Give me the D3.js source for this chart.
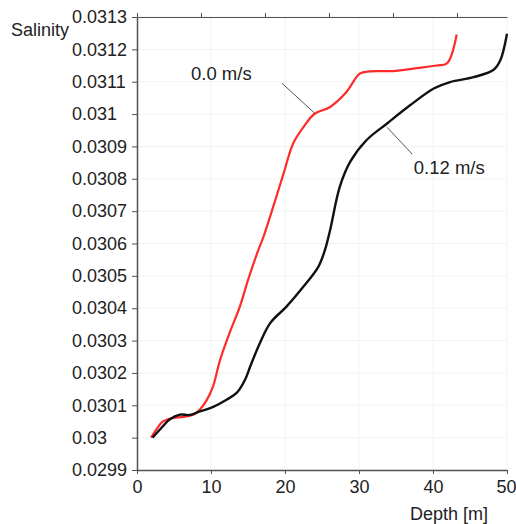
<!DOCTYPE html>
<html>
<head>
<meta charset="utf-8">
<script src="https://cdn.jsdelivr.net/npm/d3@7"></script>
<style>
  body { margin: 0; background: #fff; }
  svg { font-family: "Liberation Sans", Arial, sans-serif; }
  .axis path, .axis line { stroke: #4d5353; }
  .grid line { stroke: #edf4f4; }
</style>
</head>
<body>
<div id="chart"></div>
<script>
/* CONSTANTS AND GLOBALS */
const width = 516,
  height = 524,
  margin = { top: 17, bottom: 54, left: 137, right: 9 };

// depth [m] and salinity
const depthStill = [1.9, 2.6, 3.5, 4.9, 6.2, 7.6, 8.5, 9.4, 10.3, 11.2, 12.5, 13.9, 15.0, 16.4, 17.1, 18.4, 19.8, 21.1, 22.5, 24.0, 26.1, 28.3, 30.1, 31.5, 34.6, 37.8, 40.5, 41.9, 43.2];
const salStill = [0.030000, 0.030025, 0.030050, 0.030061, 0.030064, 0.030071, 0.030087, 0.030115, 0.030160, 0.030238, 0.030323, 0.030405, 0.030487, 0.030580, 0.030621, 0.030713, 0.030816, 0.030909, 0.030960, 0.031001, 0.031022, 0.031068, 0.031125, 0.031132, 0.031133, 0.031142, 0.031150, 0.031157, 0.031246];

const depthFlow = [2.1, 3.1, 4.4, 5.8, 7.1, 8.5, 10.3, 12.1, 13.5, 14.6, 15.3, 16.6, 18.0, 20.2, 22.5, 24.5, 25.4, 26.1, 27.4, 28.8, 31.0, 33.8, 36.9, 40.1, 42.3, 45.5, 48.2, 49.1, 50.0];
const salFlow = [0.030000, 0.030025, 0.030056, 0.030071, 0.030070, 0.030081, 0.030095, 0.030117, 0.030139, 0.030179, 0.030220, 0.030292, 0.030354, 0.030405, 0.030467, 0.030528, 0.030580, 0.030642, 0.030775, 0.030852, 0.030919, 0.030971, 0.031027, 0.031079, 0.031099, 0.031114, 0.031137, 0.031166, 0.031248];

const xTicks = [0, 10, 20, 30, 40, 50];
const yTicks = [0.0299, 0.03, 0.0301, 0.0302, 0.0303, 0.0304, 0.0305, 0.0306, 0.0307, 0.0308, 0.0309, 0.031, 0.0311, 0.0312, 0.0313];
const topTicks = [0, 1, 2, 3, 4, 5];

// labels: [text, textDepth, textSal, lineFromDepth, lineFromSal, lineToDepth, lineToSal]
const labels = [
  ["0.0 m/s", 7.3, 0.031105, 19.6, 0.031095, 24.0, 0.031003],
  ["0.12 m/s", 37.4, 0.030815, 37.2, 0.030876, 33.8, 0.030959]
];

/* SCALES */
const xScale = d3.scaleLinear().domain([0, 50]).range([margin.left, width - margin.right]);
const yScale = d3.scaleLinear().domain([0.0299, 0.0313]).range([height - margin.bottom, margin.top]);
const topScale = d3.scaleLinear().domain([0, 370 / 64]).range([margin.left, width - margin.right]);

const svg = d3.select("#chart").append("svg")
  .attr("width", width)
  .attr("height", height);

// grid
const grid = svg.append("g").attr("class", "grid");
grid.selectAll(".gx").data(xTicks.slice(1)).join("line")
  .attr("x1", d => xScale(d)).attr("x2", d => xScale(d))
  .attr("y1", margin.top).attr("y2", height - margin.bottom);
grid.selectAll(".gy").data(yTicks.slice(1)).join("line")
  .attr("y1", d => yScale(d)).attr("y2", d => yScale(d))
  .attr("x1", margin.left).attr("x2", width - margin.right);

// bottom axis
svg.append("g")
  .attr("class", "axis x-axis")
  .attr("transform", `translate(0,${height - margin.bottom})`)
  .call(d3.axisBottom(xScale).tickValues(xTicks).tickSize(4).tickSizeOuter(0).tickPadding(6).tickFormat(d3.format("d")))
  .call(g => g.selectAll("text").attr("font-size", 18).attr("fill", "#222"))
  // last label sits against the right edge of the page
  .call(g => g.selectAll(".tick text").filter(d => d === 50)
    .attr("text-anchor", "end").attr("x", margin.right))
  .call(g => g.select(".domain").attr("stroke-width", 1.5));

// top axis, no labels
svg.append("g")
  .attr("class", "axis top-axis")
  .attr("transform", `translate(0,${margin.top})`)
  .call(d3.axisTop(topScale).tickValues(topTicks).tickSize(4).tickSizeOuter(0).tickFormat(""))
  .call(g => g.select(".domain").attr("stroke-width", 1.2));

// left axis, labels left aligned
svg.append("g")
  .attr("class", "axis y-axis")
  .attr("transform", `translate(${margin.left},0)`)
  .call(d3.axisLeft(yScale).tickValues(yTicks).tickSize(5).tickSizeOuter(0).tickFormat(d => String(+d.toFixed(4))))
  .call(g => g.select(".domain").attr("stroke-width", 1.5))
  .call(g => g.selectAll("text")
    .attr("font-size", 18)
    .attr("fill", "#222")
    .attr("text-anchor", "start")
    .attr("x", 72 - margin.left));

// axis titles
svg.append("text").attr("x", 11).attr("y", 36).attr("font-size", 18).attr("fill", "#222").text("Salinity");
svg.append("text").attr("x", 410).attr("y", 520).attr("font-size", 18).attr("fill", "#222").text("Depth [m]");

// curves
const line = d3.line()
  .x(d => xScale(d[0]))
  .y(d => yScale(d[1]))
  .curve(d3.curveCatmullRom.alpha(0.5));

const series = [
  { pts: d3.zip(depthStill, salStill), color: "#ff2a2a", w: 2.2 },
  { pts: d3.zip(depthFlow, salFlow), color: "#111", w: 2.4 }
];

svg.selectAll(".curve").data(series).join("path")
  .attr("class", "curve")
  .attr("fill", "none")
  .attr("stroke", d => d.color)
  .attr("stroke-width", d => d.w)
  .attr("stroke-linejoin", "round")
  .attr("d", d => line(d.pts));

// labels with leader lines
svg.selectAll(".leader").data(labels).join("line")
  .attr("class", "leader")
  .attr("stroke", "#555")
  .attr("stroke-width", 1)
  .attr("x1", d => xScale(d[3])).attr("y1", d => yScale(d[4]))
  .attr("x2", d => xScale(d[5])).attr("y2", d => yScale(d[6]));

svg.selectAll(".lbl").data(labels).join("text")
  .attr("class", "lbl")
  .attr("font-size", 18.5)
  .attr("fill", "#222")
  .attr("x", d => xScale(d[1]))
  .attr("y", d => yScale(d[2]))
  .text(d => d[0]);
</script>
</body>
</html>
